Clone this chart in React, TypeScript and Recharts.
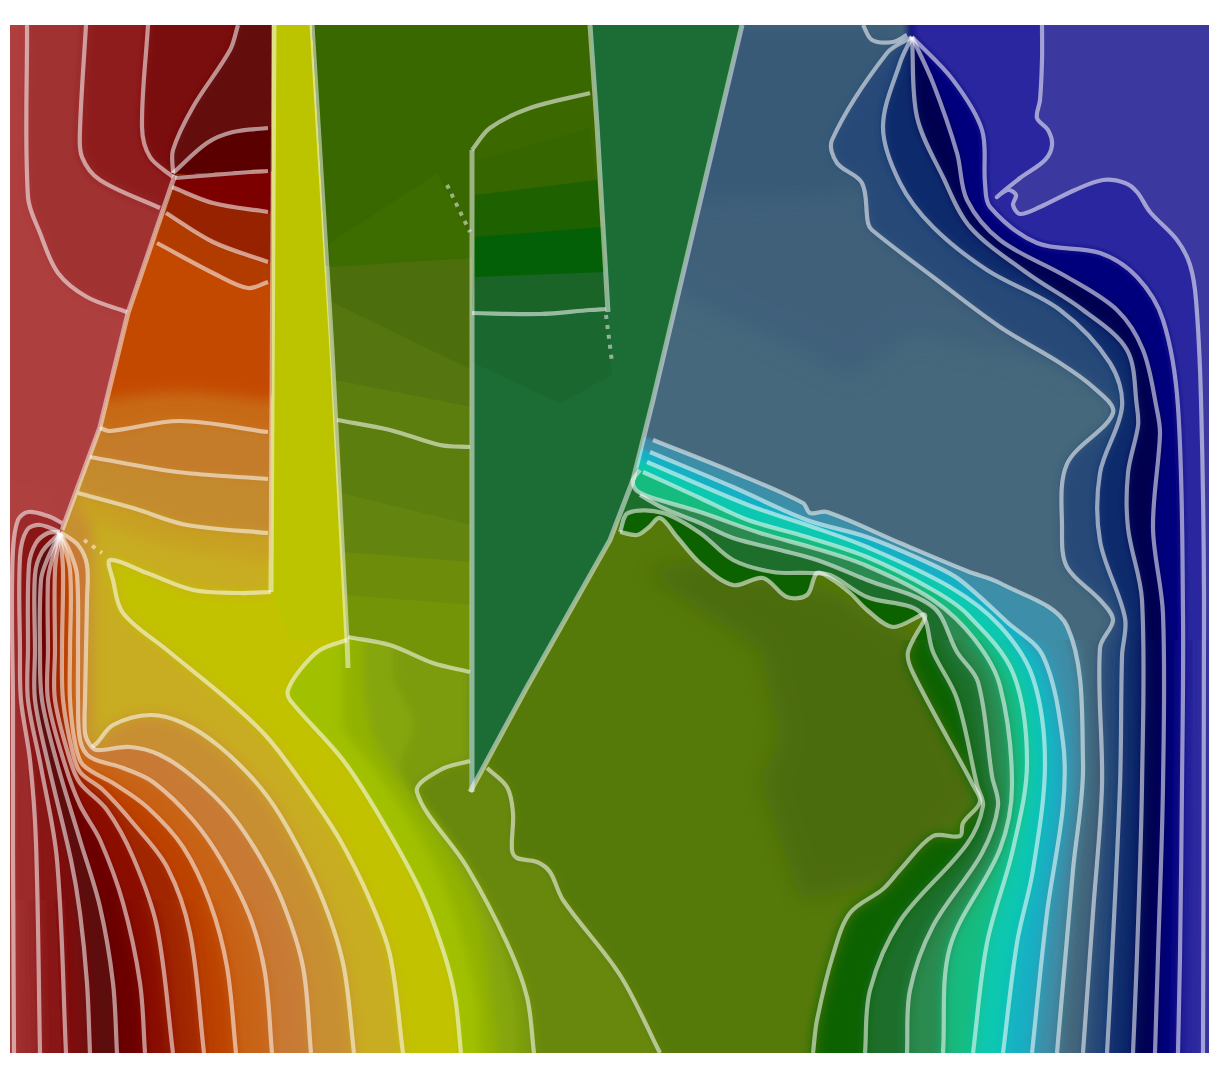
import React from 'react';
import { ScatterChart, Scatter, XAxis, YAxis } from 'recharts';

type Pair = [number, number];
type Pt = { x: number; y: number };
type Layer = { pts: Pair[]; color: string; filter?: string; clip?: string; n?: number };

// contour lines (x, y in picture units)
const L1: Pair[] = [[62,523],[48,516],[28,512],[18,520],[13,550],[12,620],[13,700],[13,850],[14,1053]];
const L2: Pair[] = [[60,532],[40,525],[27,530],[20,557],[20,650],[21,700],[30,760],[36,843],[40,1053]];
const L3: Pair[] = [[60,532],[48,533],[36,543],[29,565],[28,650],[28,700],[41,767],[57,860],[66,1053]];
const L4: Pair[] = [[60,533],[42,552],[35,575],[35,650],[35,700],[48,763],[71,860],[80,913],[87,983],[90,1053]];
const L5: Pair[] = [[60,533],[47,560],[41,580],[40,650],[42,700],[57,763],[80,840],[100,907],[113,983],[117,1053]];
const L6: Pair[] = [[60,533],[52,560],[48,580],[48,650],[48,700],[65,765],[80,805],[100,840],[123,903],[140,983],[145,1053]];
const L7: Pair[] = [[60,533],[55,570],[55,650],[55,700],[70,760],[80,783],[107,810],[133,857],[157,927],[173,1053]];
const L8: Pair[] = [[60,533],[63,570],[62,650],[63,700],[72,750],[80,772],[103,790],[133,823],[167,867],[190,933],[204,1053]];
const L9: Pair[] = [[60,533],[70,570],[70,650],[70,700],[75,743],[83,765],[113,783],[147,807],[183,847],[210,903],[227,967],[236,1053]];
const L10: Pair[] = [[60,533],[70,552],[77,575],[78,650],[78,700],[80,740],[90,757],[123,768],[153,782],[193,820],[223,863],[250,917],[265,973],[272,1053]];
const L11: Pair[] = [[60,532],[78,545],[87,565],[87,600],[85,700],[85,733],[90,745],[97,750],[130,747],[160,755],[193,777],[230,813],[260,857],[283,903],[303,967],[311,1053]];
const L12: Pair[] = [[92,747],[97,743],[113,725],[150,715],[183,723],[220,747],[260,787],[287,827],[320,893],[343,963],[354,1053]];
const L13: Pair[] = [[271,592],[240,593],[193,590],[147,573],[110,560],[113,580],[123,613],[167,650],[228,700],[267,737],[307,790],[340,840],[370,900],[390,955],[403,1053]];
const L14: Pair[] = [[347,640],[320,650],[300,670],[288,690],[290,700],[343,760],[380,817],[420,890],[443,950],[455,997],[461,1053]];
const L15: Pair[] = [[470,761],[440,770],[417,792],[467,867],[507,943],[527,997],[534,1053]];
const L16: Pair[] = [[487,768],[507,787],[513,813],[512,850],[517,858],[537,862],[550,872],[563,900],[620,975],[660,1053]];
const F1: Pair[] = [[393,680],[413,723],[400,773],[440,827],[487,907],[513,997],[517,1053]];
const F2: Pair[] = [[363,680],[373,737],[397,777],[440,840],[477,913],[493,1013],[497,1053]];
const F3: Pair[] = [[343,730],[380,777],[420,837],[453,907],[477,1000],[480,1053]];

const D: Pair[] = [[620,532],[637,535],[648,528],[660,518],[677,537],[700,563],[733,585],[763,578],[787,597],[807,595],[817,573],[830,578],[850,593],[867,610],[893,627],[925,615],[908,652],[913,673],[973,785],[980,802],[963,823],[960,836],[933,836],[900,870],[883,889],[850,913],[833,955],[817,1020],[813,1053]];
const B: Pair[] = [[620,532],[628,513],[663,513],[700,533],[733,560],[773,572],[810,573],[830,575],[867,597],[920,612],[933,652],[957,699],[977,785],[983,806],[967,844],[900,921],[870,990],[865,1053]];
const E: Pair[] = [[640,495],[663,508],[700,523],[733,538],[780,550],[817,560],[867,580],[933,607],[957,652],[978,682],[992,776],[998,806],[982,853],[933,926],[910,990],[907,1053]];
const A: Pair[] = [[640,470],[633,480],[636,490],[650,497],[700,512],[760,533],[817,549],[867,566],[933,600],[975,640],[1000,686],[1012,785],[1000,849],[950,947],[943,1053]];
const R5: Pair[] = [[643,472],[700,498],[748,520],[807,537],[867,557],[933,590],[967,614],[1013,673],[1027,763],[1013,849],[987,943],[973,1053]];
const R6: Pair[] = [[647,462],[748,505],[807,525],[867,547],[950,587],[1000,626],[1033,678],[1045,763],[1033,870],[1017,943],[1003,1053]];
const R7: Pair[] = [[650,452],[733,487],[807,520],[867,537],[933,565],[960,580],[1007,622],[1043,656],[1063,742],[1063,806],[1047,913],[1032,1053]];
const R8: Pair[] = [[653,440],[733,472],[803,503],[810,513],[827,512],[900,543],[967,571],[1000,583],[1067,626],[1083,763],[1073,870],[1057,1053]];
const R9: Pair[] = [[912,37],[887,53],[832,140],[837,163],[862,183],[868,223],[872,230],[933,277],[1000,327],[1060,363],[1093,387],[1113,413],[1067,464],[1062,528],[1067,567],[1100,600],[1113,620],[1100,648],[1102,785],[1093,913],[1083,1053]];
const R10: Pair[] = [[912,37],[900,63],[883,127],[900,183],[933,227],[987,270],[1060,310],[1110,363],[1122,407],[1100,473],[1100,541],[1125,618],[1122,656],[1120,785],[1110,998],[1107,1053]];
const R11: Pair[] = [[912,37],[917,117],[943,177],[970,227],[1027,273],[1083,310],[1127,350],[1137,407],[1138,426],[1128,473],[1128,528],[1142,600],[1142,785],[1137,955],[1133,1053]];
const R12: Pair[] = [[912,37],[933,83],[957,153],[967,200],[1000,240],[1067,277],[1117,310],[1143,350],[1157,410],[1160,434],[1153,528],[1163,614],[1163,785],[1158,955],[1155,1053]];
const R13: Pair[] = [[912,37],[953,80],[982,130],[985,183],[990,207],[1037,243],[1100,253],[1137,277],[1163,320],[1178,407],[1183,614],[1182,785],[1180,955],[1178,1053]];
const R14: Pair[] = [[1042,25],[1042,60],[1040,100],[1037,118],[1048,130],[1052,145],[1045,160],[1020,178],[997,197],[1008,190],[1016,195],[1013,205],[1020,214],[1040,207],[1075,190],[1103,180],[1125,183],[1137,192],[1150,212],[1177,240],[1190,265],[1196,300],[1201,400],[1204,600],[1203,1053]];
const HUB_LOOP: Pair[] = [[863,25],[872,40],[893,42],[907,35]];

const T1: Pair[] = [[27,25],[28,197],[40,233],[58,273],[87,297],[127,312]];
const T2: Pair[] = [[86,25],[80,130],[82,157],[100,180],[160,208]];
const T3: Pair[] = [[148,25],[142,127],[150,157],[173,177]];
const T4: Pair[] = [[238,25],[230,50],[193,107],[173,150],[173,173]];
const T5: Pair[] = [[173,173],[207,143],[233,132],[268,128]];
const T6: Pair[] = [[175,178],[250,172],[268,171]];
const T7: Pair[] = [[172,187],[213,203],[268,212]];
const T8: Pair[] = [[166,213],[213,242],[268,262]];
const T9: Pair[] = [[157,243],[217,275],[248,288],[268,282]];
const U1: Pair[] = [[100,428],[110,431],[180,421],[268,432]];
const U2: Pair[] = [[90,457],[177,472],[268,479]];
const U3: Pair[] = [[78,493],[133,508],[187,525],[268,533]];
const C1: Pair[] = [[337,420],[390,430],[440,445],[470,447]];
const C2: Pair[] = [[348,637],[390,645],[433,663],[470,672]];
const PANE_TOP: Pair[] = [[472,150],[490,128],[530,108],[590,93]];
const PANE_BOTTOM: Pair[] = [[472,313],[540,314],[590,310],[606,309]];

// hard edges between the sub-domains
const EDGE_LEFT: Pair[] = [[175,175],[128,313],[100,427],[62,530]];
const WALL_1: Pair[] = [[274,25],[271,592]];
const WALL_2: Pair[] = [[312,25],[332,350],[347,640],[348,668]];
const WALL_3: Pair[] = [[472,150],[472,792]];
const WALL_4: Pair[] = [[590,25],[597,125],[608,312]];
const WALL_5: Pair[] = [[742,25],[653,400],[633,480]];
const WALL_6: Pair[] = [[633,480],[610,540],[527,687],[470,792]];
const DOTS: Pair[][] = [[[447,185],[470,232]], [[606,315],[612,362]], [[84,540],[102,553]]];

const FRAME: Pair[] = [[10,25],[1209,25],[1209,1053],[10,1053]];
const ZONE_RED: Pair[] = [[10,25],[272,25],[272,171],[175,175],[128,313],[100,427],[62,530],[50,490],[10,480]];
const ZONE_TAN: Pair[] = [[175,175],[271,170],[271,600],[62,600],[62,530],[100,427],[128,313]];
const ZONE_STRIP: Pair[] = [[10,25],[1209,25],[1209,770],[10,770]];
const ZONE_MID: Pair[] = [[10,770],[1209,770],[1209,900],[10,900]];
const ZONE_FOOT: Pair[] = [[10,900],[1209,900],[1209,1053],[10,1053]];
const ZONE_UPPER: Pair[] = [[10,25],[1209,25],[1209,640],[10,640]];
const ZONE_LOWER: Pair[] = [[10,640],[1209,640],[1209,1053],[10,1053]];

const first = (a: Pair[]) => a[0];
const last = (a: Pair[]) => a[a.length - 1];

const leftPts = (line: Pair[]): Pair[] => [...line, [last(line)[0], 1079], [0, 1079], [0, 400], [first(line)[0], 400]];

// one pass for the wide bands
const leftOf = (line: Pair[], color: string, filter = 's5'): Layer[] => [
  { pts: leftPts(line), color, filter, clip: 'frame', n: line.length },
];
// the bands open up from the hub to the foot, so soften them in steps
const fanOf = (line: Pair[], color: string): Layer[] => [
  { pts: leftPts(line), color, filter: 's2', clip: 'strip', n: line.length },
  { pts: leftPts(line), color, filter: 's3', clip: 'mid', n: line.length },
  { pts: leftPts(line), color, filter: 's6', clip: 'foot', n: line.length },
];
const rightOf = (line: Pair[], color: string, upper = 's2', start?: Pair): Layer[] => {
  const head: Pair[] = start ? [start, ...line] : line;
  const pts: Pair[] = [...head, [last(line)[0], 1079], [1219, 1079], [1219, 0], [first(head)[0], 0]];
  return [
    { pts, color, filter: upper, clip: 'upper', n: head.length },
    { pts, color, filter: 's6', clip: 'lower', n: head.length },
  ];
};
const inZone = (line: Pair[], tail: Pair[], color: string, clip: string, filter = 's2'): Layer => ({
  pts: [...line, ...tail], color, filter, clip, n: line.length,
});

const LAYERS: Layer[] = [
  { pts: FRAME, color: '#567a0a' },
  { pts: [[640,570],[760,650],[780,740],[760,780],[800,900],[900,880],[980,800],[920,640],[830,590],[700,560]], color: '#4c6c08', filter: 's10', clip: 'frame' },

  ...rightOf(D, '#0e6200'),
  ...rightOf(B, '#1c6e2c'),
  ...rightOf(E, '#2a8a50'),
  ...rightOf(A, '#14bb80'),
  ...rightOf(R5, '#10c8b0', 's2', [632,467]),
  ...rightOf(R6, '#14b0c4', 's2', [634,457]),
  ...rightOf(R7, '#3e8ea8', 's2', [637,447]),
  ...rightOf(R8, '#44687c', 's2', [640,435]),
  { pts: [[700,305],[800,350],[850,377],[917,330],[950,343],[1040,358],[1080,375],[1080,25],[650,25],[650,280]], color: '#3f617a', filter: 's10', clip: 'frame' },
  { pts: [[650,200],[850,195],[865,180],[880,140],[900,25],[650,25]], color: '#395a77', filter: 's10', clip: 'frame' },
  ...rightOf(R9, '#274a78', 's5'),
  ...rightOf(R10, '#0c2c6c', 's4'),
  ...rightOf(R11, '#000050', 's4'),
  ...rightOf(R12, '#00007c', 's4'),
  ...rightOf(R13, '#2a289f', 's4'),
  ...rightOf(R14, '#3a38a0', 's2'),

  ...leftOf(L16, '#68880a'),
  ...leftOf(L15, '#7c9c0a'),
  ...leftOf(F1, '#86a60a'),
  ...leftOf(F2, '#92b206'),
  ...leftOf(F3, '#a0c000'),
  ...leftOf(L14, '#c2c200', 's3'),
  ...leftOf(L13, '#c8ac24', 's6'),
  ...leftOf(L12, '#c88f32', 's6'),
  ...fanOf(L11, '#c87a34'),
  ...fanOf(L10, '#c86418'),
  ...fanOf(L9, '#bc4200'),
  ...fanOf(L8, '#a02800'),
  ...fanOf(L7, '#8a0e00'),
  ...fanOf(L6, '#6c0000'),
  ...fanOf(L5, '#5c0a0a'),
  ...fanOf(L4, '#7c0e0e'),
  ...fanOf(L3, '#8a1818'),
  ...fanOf(L2, '#9c2a2a'),
  ...fanOf(L1, '#ae3f3f'),

  // yellow strip and the olive column next to it
  { pts: [[272,25],[312,25],[332,350],[347,640],[290,640],[272,592]], color: '#bcc400' },
  { pts: [[312,25],[472,25],[472,672],[433,663],[390,645],[347,637]], color: '#749408' },
  { pts: [[312,25],[472,25],[472,605],[345,595]], color: '#6c8c0a' },
  { pts: [[312,25],[472,25],[472,562],[343,552]], color: '#648410' },
  { pts: [[312,25],[472,25],[472,525],[342,493]], color: '#5c7e0e' },
  { pts: [[312,25],[472,25],[472,407],[335,380]], color: '#547510' },
  { pts: [[312,25],[472,25],[472,370],[332,302]], color: '#4c6e0c' },
  { pts: [[312,25],[590,25],[597,125],[590,93],[530,108],[490,128],[472,150],[472,258],[326,266]], color: '#396700' },
  { pts: [[330,243],[437,173],[470,237],[470,258],[330,267]], color: '#3d6c00' },

  // dark wedge and the pane in it
  { pts: [[590,25],[742,25],[653,400],[633,480],[610,540],[527,687],[470,792],[471,315],[608,315],[597,125]], color: '#1c6c36' },
  { pts: [[472,150],[490,128],[530,108],[590,93],[597,125],[608,312],[472,312]], color: '#3b6900' },
  { pts: [[472,162],[590,128],[608,312],[472,312]], color: '#356600' },
  { pts: [[475,195],[597,180],[608,312],[472,312]], color: '#1d6100' },
  { pts: [[475,237],[602,227],[608,312],[472,312]], color: '#046006' },
  { pts: [[475,277],[605,272],[608,312],[472,312]], color: '#1a6428' },
  { pts: [[472,312],[608,312],[612,375],[560,403],[472,362]], color: '#1a6830' },

  // top left
  { pts: ZONE_RED, color: '#ae3f3f' },
  inZone(T1, [[300,312],[300,0],[27,0]], '#a03030', 'red', 's4'),
  inZone(T2, [[300,208],[300,0],[86,0]], '#8e1c1c', 'red', 's4'),
  inZone(T3, [[300,177],[300,0],[148,0]], '#7a0a0a', 'red', 's4'),
  inZone(T4, [[300,173],[300,0],[238,0]], '#640808', 'red', 's4'),
  inZone(T5, [[300,128],[300,173],[175,175]], '#5a0000', 'red'),
  inZone([[78,515],[170,545],[268,560]], [[300,560],[300,100],[40,100]], '#c8a024', 'tan', 's6'),
  inZone(U3, [[300,533],[300,100],[40,100]], '#c48a2e', 'tan', 's5'),
  inZone(U2, [[300,479],[300,100],[40,100]], '#c47c2c', 'tan', 's5'),
  inZone(U1, [[300,432],[300,100],[40,100]], '#c76a18', 'tan', 's5'),
  inZone([[100,400],[180,392],[268,400]], [[300,400],[300,100],[40,100]], '#c44800', 'tan', 's6'),
  inZone(T9, [[300,282],[300,100],[140,100]], '#b23a00', 'tan'),
  inZone(T8, [[300,262],[300,100],[140,100]], '#962000', 'tan'),
  inZone(T7, [[300,212],[300,100],[140,100]], '#7c0400', 'tan'),
  inZone(T6, [[300,171],[300,100],[140,100]], '#560000', 'tan'),
];

const CONTOURS: Pair[][] = [
  L1, L2, L3, L4, L5, L6, L7, L8, L9, L10, L11, L12, L13, L14, L15, L16,
  D, B, E, A, R5, R6, R7, R8, R9, R10, R11, R12, R13, R14, HUB_LOOP,
  T1, T2, T3, T4, T5, T6, T7, T8, T9, U1, U2, U3, C1, C2, PANE_TOP, PANE_BOTTOM,
];
const EDGES: Pair[][] = [EDGE_LEFT, WALL_1, WALL_2, WALL_3, WALL_4, WALL_5, WALL_6];
const BLURS: [string, number][] = [['s2', 1.6], ['s3', 3], ['s4', 4], ['s5', 5], ['s6', 7], ['s10', 12]];

const toXY = (a: Pair[]): Pt[] => a.map(([x, y]) => ({ x, y }));
const dist = (a: Pt, b: Pt) => Math.hypot(a.x - b.x, a.y - b.y) || 1;

// chord-length spline through the first n points, straight after that
function toPath(p: Pt[], n: number, closed: boolean) {
  let d = `M${p[0].x},${p[0].y}`;
  for (let i = 0; i < n - 1; i++) {
    const p0 = p[i - 1] || p[i];
    const p1 = p[i];
    const p2 = p[i + 1];
    const p3 = i + 2 < n ? p[i + 2] : p2;
    const d2 = dist(p1, p2);
    const a = d2 / (3 * (p0 === p1 ? d2 : dist(p0, p1) + d2));
    const b = d2 / (3 * (p3 === p2 ? d2 : d2 + dist(p2, p3)));
    d += `C${p1.x + (p2.x - p0.x) * a},${p1.y + (p2.y - p0.y) * a},${p2.x - (p3.x - p1.x) * b},${p2.y - (p3.y - p1.y) * b},${p2.x},${p2.y}`;
  }
  for (let i = n; i < p.length; i++) d += `L${p[i].x},${p[i].y}`;
  return closed ? d + 'Z' : d;
}

const noMark = () => <g />;

function series(key: string, pts: Pair[], line: (props: any) => React.ReactElement) {
  return (
    <Scatter
      key={key}
      data={toXY(pts)}
      line={line}
      shape={noMark}
      legendType="none"
      isAnimationActive={false}
    />
  );
}

const clipZones: [string, Pair[]][] = [
  ['frame', FRAME], ['red', ZONE_RED], ['tan', ZONE_TAN], ['strip', ZONE_STRIP],
  ['mid', ZONE_MID], ['foot', ZONE_FOOT], ['upper', ZONE_UPPER], ['lower', ZONE_LOWER],
];

export default function App() {
  return (
    <div style={{ position: 'absolute', left: 0, top: 0 }}>
      <ScatterChart width={1219} height={1079} margin={{ top: 0, right: 0, bottom: 0, left: 0 }}>
        <defs>
          {BLURS.map(([id, sd]) => (
            <filter key={id} id={id} filterUnits="userSpaceOnUse" x={-20} y={-20} width={1260} height={1120}>
              <feGaussianBlur stdDeviation={sd} />
            </filter>
          ))}
        </defs>
        <XAxis type="number" dataKey="x" domain={[0, 1219]} hide />
        <YAxis type="number" dataKey="y" domain={[0, 1079]} reversed hide />

        {clipZones.map(([id, pts]) =>
          series(`zone-${id}`, pts, (p) => (
            <clipPath id={id}>
              <path d={toPath(p.points, 1, true)} />
            </clipPath>
          )),
        )}

        {LAYERS.map((l, i) =>
          series(`layer-${i}`, l.pts, (p) => (
            <path
              d={toPath(p.points, l.n || 1, true)}
              fill={l.color}
              stroke="none"
              filter={l.filter ? `url(#${l.filter})` : undefined}
              clipPath={l.clip ? `url(#${l.clip})` : undefined}
            />
          )),
        )}

        {EDGES.map((e, i) =>
          series(`edge-${i}`, e, (p) => (
            <path d={toPath(p.points, 1, false)} fill="none" stroke="#fff" strokeOpacity={0.5} strokeWidth={5} clipPath="url(#frame)" />
          )),
        )}

        {CONTOURS.map((c, i) =>
          series(`contour-${i}`, c, (p) => (
            <path d={toPath(p.points, p.points.length, false)} fill="none" stroke="#fff" strokeOpacity={0.55} strokeWidth={4.2} clipPath="url(#frame)" />
          )),
        )}

        {DOTS.map((c, i) =>
          series(`dots-${i}`, c, (p) => (
            <path d={toPath(p.points, 1, false)} fill="none" stroke="#fff" strokeOpacity={0.5} strokeWidth={4} strokeDasharray="4 6" />
          )),
        )}
      </ScatterChart>
    </div>
  );
}
